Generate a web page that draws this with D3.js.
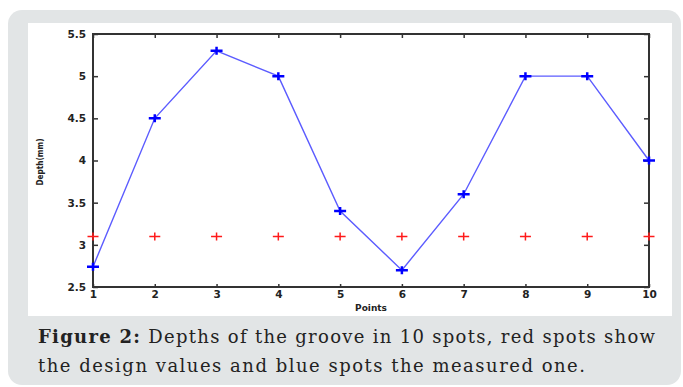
<!DOCTYPE html>
<html>
<head>
<meta charset="utf-8">
<script src="https://cdn.jsdelivr.net/npm/d3@7/dist/d3.min.js"></script>
<style>
  html, body { margin: 0; padding: 0; background: #fff; }
  svg { display: block; }
</style>
</head>
<body>
<svg id="chart"></svg>
<script>
'use strict';

var points = [1, 2, 3, 4, 5, 6, 7, 8, 9, 10];
var measured = [2.74, 4.5, 5.3, 5.0, 3.4, 2.7, 3.6, 5.0, 5.0, 4.0];
var design = [3.1, 3.1, 3.1, 3.1, 3.1, 3.1, 3.1, 3.1, 3.1, 3.1];
var yTicks = [2.5, 3, 3.5, 4, 4.5, 5, 5.5];
var captionBold = 'Figure 2:';
var captionLine1 = ' Depths of the groove in 10 spots, red spots show';
var captionLine2 = 'the design values and blue spots the measured one.';

var width = 683,
  height = 387,
  plot = {left: 93, right: 649, top: 34, bottom: 287},
  axisColor = '#333',
  labelFont = '"DejaVu Sans", Verdana, sans-serif';

var svg = d3.select('#chart').attr('width', width).attr('height', height);

// grey card + white figure panel
svg.append('rect').attr('x', 8).attr('y', 10).attr('width', 673).attr('height', 375)
  .attr('rx', 14).attr('fill', '#e2e5e6');
svg.append('rect').attr('x', 28).attr('y', 23).attr('width', 644).attr('height', 293)
  .attr('fill', '#fff');

var x = d3.scaleLinear().domain([1, 10]).range([plot.left, plot.right]);
var y = d3.scaleLinear().domain([2.5, 5.5]).range([plot.bottom, plot.top]);

function styleAxis(g, showText) {
  g.select('.domain').remove();
  g.selectAll('line').attr('stroke', axisColor).attr('stroke-width', 1.5);
  g.selectAll('text')
    .style('font-family', labelFont)
    .style('font-weight', 'bold')
    .style('font-size', '10.5px')
    .attr('fill', '#222')
    .style('display', showText ? null : 'none');
}

svg.append('g').attr('transform', 'translate(' + plot.left + ',0)')
  .call(d3.axisLeft(y).tickValues(yTicks).tickFormat(function (d) { return d; }).tickSize(-5).tickPadding(7))
  .call(styleAxis, true);

svg.append('g').attr('transform', 'translate(' + plot.right + ',0)')
  .call(d3.axisRight(y).tickValues(yTicks).tickSize(-5))
  .call(styleAxis, false);

svg.append('g').attr('transform', 'translate(0,' + plot.bottom + ')')
  .call(d3.axisBottom(x).tickValues(points).tickFormat(function (d) { return d; }).tickSize(-3).tickPadding(4))
  .call(styleAxis, true);

svg.append('g').attr('transform', 'translate(0,' + plot.top + ')')
  .call(d3.axisTop(x).tickValues(points).tickSize(-4))
  .call(styleAxis, false);

// box
svg.append('rect')
  .attr('x', plot.left).attr('y', plot.top)
  .attr('width', plot.right - plot.left).attr('height', plot.bottom - plot.top)
  .attr('fill', 'none').attr('stroke', axisColor).attr('stroke-width', 2);

// axis titles
svg.append('text')
  .attr('x', (plot.left + plot.right) / 2).attr('y', 311)
  .attr('text-anchor', 'middle')
  .style('font-family', labelFont).style('font-weight', 'bold').style('font-size', '9px')
  .attr('fill', '#222')
  .text('Points');

svg.append('text')
  .attr('transform', 'translate(43,162) rotate(-90)')
  .attr('text-anchor', 'middle')
  .attr('textLength', 47).attr('lengthAdjust', 'spacingAndGlyphs')
  .style('font-family', labelFont).style('font-weight', 'bold').style('font-size', '9px')
  .attr('fill', '#222')
  .text('Depth(mm)');

function plus(w, h) {
  return 'M' + (-w / 2) + ',0H' + (w / 2) + 'M0,' + (-h / 2) + 'V' + (h / 2);
}

// design values (red)
svg.append('g').selectAll('path')
  .data(points)
  .join('path')
  .attr('transform', function (d, i) { return 'translate(' + x(d) + ',' + y(design[i]) + ')'; })
  .attr('d', plus(11, 8))
  .attr('stroke', '#ff1a1a').attr('stroke-width', 1.5).attr('fill', 'none');

// measured (blue)
var line = d3.line()
  .x(function (d) { return x(d); })
  .y(function (d, i) { return y(measured[i]); });

svg.append('path').datum(points)
  .attr('d', line)
  .attr('fill', 'none').attr('stroke', '#5c5cff').attr('stroke-width', 1.4);

svg.append('g').selectAll('path')
  .data(points)
  .join('path')
  .attr('transform', function (d, i) { return 'translate(' + x(d) + ',' + y(measured[i]) + ')'; })
  .attr('d', plus(12, 8))
  .attr('stroke', '#0000ff').attr('stroke-width', 2.5).attr('fill', 'none');

// caption
var cap = svg.append('g')
  .style('font-family', '"DejaVu Serif", "Liberation Serif", serif')
  .style('font-size', '18px')
  .attr('fill', '#222');

var t1 = cap.append('text').attr('x', 38).attr('y', 343)
  .attr('textLength', 617).attr('lengthAdjust', 'spacing');
t1.append('tspan').style('font-weight', 'bold').text(captionBold);
t1.append('tspan').text(captionLine1);

cap.append('text').attr('x', 38).attr('y', 372)
  .attr('textLength', 547).attr('lengthAdjust', 'spacing')
  .text(captionLine2);
</script>
</body>
</html>
